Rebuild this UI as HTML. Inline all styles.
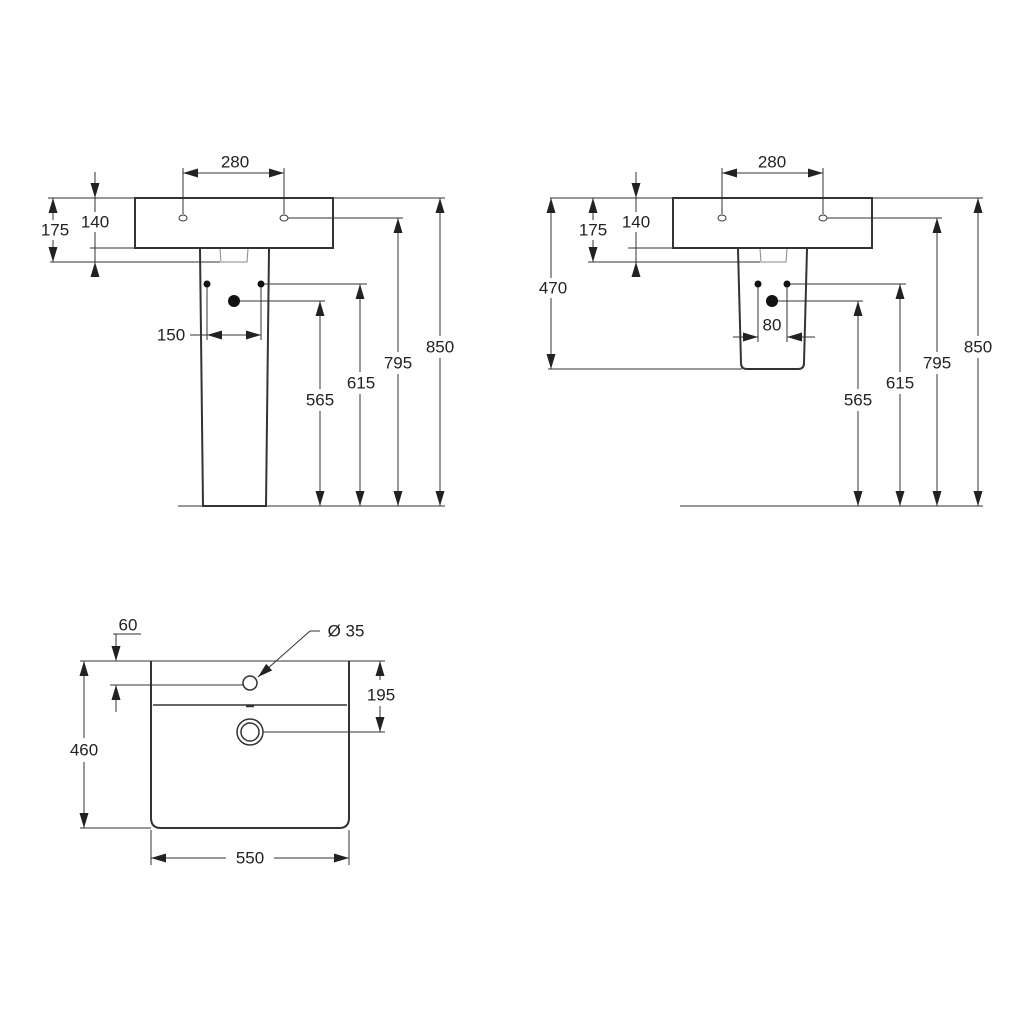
<!DOCTYPE html>
<html><head><style>body{margin:0;background:#fff}svg{display:block}text{font-family:"Liberation Sans",Arial,sans-serif;font-size:17px;fill:#222;text-anchor:middle;dominant-baseline:central}</style></head><body>
<svg width="1024" height="1024" viewBox="0 0 1024 1024" xmlns="http://www.w3.org/2000/svg">
<defs>
<marker id="a" markerWidth="15" markerHeight="9" refX="15" refY="4.5" orient="auto-start-reverse" markerUnits="userSpaceOnUse"><path d="M0,0L15,4.5L0,9z" fill="#222"/></marker>
</defs>
<g stroke="#333" stroke-width="1" fill="none">
<line x1="48" y1="198" x2="445" y2="198"/>
<line x1="50" y1="262" x2="220" y2="262"/>
<line x1="90" y1="248" x2="135" y2="248"/>
<line x1="178" y1="506" x2="445" y2="506"/>
<rect x="135" y="198" width="198" height="50" stroke-width="2"/>
<path d="M200,249L203,506L266,506L269,249" stroke-width="2"/>
<path d="M220,249L221,262L247,262L248,249" stroke="#888"/>
<ellipse cx="183" cy="218" rx="4" ry="3"/><ellipse cx="284" cy="218" rx="4" ry="3"/>
<line x1="183" y1="168" x2="183" y2="214"/><line x1="284" y1="168" x2="284" y2="214"/>
<line x1="183" y1="173" x2="284" y2="173" marker-start="url(#a)" marker-end="url(#a)"/>
<line x1="95" y1="172" x2="95" y2="198" marker-end="url(#a)"/>
<line x1="95" y1="274" x2="95" y2="262" marker-end="url(#a)"/>
<line x1="95" y1="198" x2="95" y2="212"/><line x1="95" y1="232" x2="95" y2="262"/>
<line x1="53" y1="198" x2="53" y2="220" marker-start="url(#a)"/>
<line x1="53" y1="240" x2="53" y2="262" marker-end="url(#a)"/>
<line x1="288" y1="218" x2="403" y2="218"/>
<line x1="398" y1="218" x2="398" y2="352" marker-start="url(#a)"/>
<line x1="398" y1="374" x2="398" y2="506" marker-end="url(#a)"/>
<line x1="440" y1="198" x2="440" y2="336" marker-start="url(#a)"/>
<line x1="440" y1="358" x2="440" y2="506" marker-end="url(#a)"/>
<line x1="261" y1="284" x2="367" y2="284"/>
<line x1="360" y1="284" x2="360" y2="372" marker-start="url(#a)"/>
<line x1="360" y1="394" x2="360" y2="506" marker-end="url(#a)"/>
<line x1="234" y1="301" x2="325" y2="301"/>
<line x1="320" y1="301" x2="320" y2="389" marker-start="url(#a)"/>
<line x1="320" y1="411" x2="320" y2="506" marker-end="url(#a)"/>
<line x1="207" y1="284" x2="207" y2="340"/><line x1="261" y1="284" x2="261" y2="340"/>
<line x1="190" y1="335" x2="207" y2="335"/>
<line x1="207" y1="335" x2="261" y2="335" marker-start="url(#a)" marker-end="url(#a)"/>
<line x1="550" y1="198" x2="983" y2="198"/>
<line x1="588" y1="262" x2="760" y2="262"/>
<line x1="628" y1="248" x2="673" y2="248"/>
<line x1="548" y1="369" x2="742" y2="369"/>
<line x1="680" y1="506" x2="983" y2="506"/>
<rect x="673" y="198" width="199" height="50" stroke-width="2"/>
<path d="M738,249L741,363Q741,369 747,369L798,369Q804,369 804,363L807,249" stroke-width="2"/>
<path d="M760,249L761,262L786,262L787,249" stroke="#888"/>
<ellipse cx="722" cy="218" rx="4" ry="3"/><ellipse cx="823" cy="218" rx="4" ry="3"/>
<line x1="722" y1="168" x2="722" y2="214"/><line x1="823" y1="168" x2="823" y2="214"/>
<line x1="722" y1="173" x2="823" y2="173" marker-start="url(#a)" marker-end="url(#a)"/>
<line x1="636" y1="172" x2="636" y2="198" marker-end="url(#a)"/>
<line x1="636" y1="274" x2="636" y2="262" marker-end="url(#a)"/>
<line x1="636" y1="198" x2="636" y2="212"/><line x1="636" y1="232" x2="636" y2="262"/>
<line x1="593" y1="198" x2="593" y2="220" marker-start="url(#a)"/>
<line x1="593" y1="240" x2="593" y2="262" marker-end="url(#a)"/>
<line x1="551" y1="198" x2="551" y2="278" marker-start="url(#a)"/>
<line x1="551" y1="298" x2="551" y2="369" marker-end="url(#a)"/>
<line x1="827" y1="218" x2="942" y2="218"/>
<line x1="937" y1="218" x2="937" y2="352" marker-start="url(#a)"/>
<line x1="937" y1="374" x2="937" y2="506" marker-end="url(#a)"/>
<line x1="978" y1="198" x2="978" y2="336" marker-start="url(#a)"/>
<line x1="978" y1="358" x2="978" y2="506" marker-end="url(#a)"/>
<line x1="787" y1="284" x2="906" y2="284"/>
<line x1="900" y1="284" x2="900" y2="372" marker-start="url(#a)"/>
<line x1="900" y1="394" x2="900" y2="506" marker-end="url(#a)"/>
<line x1="772" y1="301" x2="863" y2="301"/>
<line x1="858" y1="301" x2="858" y2="389" marker-start="url(#a)"/>
<line x1="858" y1="411" x2="858" y2="506" marker-end="url(#a)"/>
<line x1="758" y1="284" x2="758" y2="342"/><line x1="787" y1="284" x2="787" y2="342"/>
<line x1="733" y1="337" x2="758" y2="337" marker-end="url(#a)"/>
<line x1="815" y1="337" x2="787" y2="337" marker-end="url(#a)"/>
<line x1="80" y1="661" x2="385" y2="661"/>
<line x1="80" y1="828" x2="151" y2="828"/>
<path d="M151,661L151,818Q151,828 161,828L339,828Q349,828 349,818L349,661" stroke-width="2"/>
<line x1="153" y1="705" x2="347" y2="705" stroke-width="1.5"/>
<line x1="246" y1="706" x2="254" y2="706" stroke-width="2.5"/>
<circle cx="250" cy="683" r="7" stroke-width="1.5"/>
<circle cx="250" cy="732" r="13" stroke-width="1.5"/><circle cx="250" cy="732" r="9" stroke-width="1.5"/>
<line x1="84" y1="661" x2="84" y2="738" marker-start="url(#a)"/>
<line x1="84" y1="762" x2="84" y2="828" marker-end="url(#a)"/>
<line x1="116" y1="634" x2="116" y2="661" marker-end="url(#a)"/>
<line x1="116" y1="712" x2="116" y2="685" marker-end="url(#a)"/>
<line x1="113" y1="634" x2="141" y2="634"/>
<line x1="110" y1="685" x2="243" y2="685"/>
<line x1="380" y1="661" x2="380" y2="680" marker-start="url(#a)"/>
<line x1="380" y1="706" x2="380" y2="732" marker-end="url(#a)"/>
<line x1="263" y1="732" x2="385" y2="732"/>
<polyline points="320,631 310,631 258,677" marker-end="url(#a)"/>
<line x1="151" y1="830" x2="151" y2="865"/><line x1="349" y1="830" x2="349" y2="865"/>
<line x1="151" y1="858" x2="226" y2="858" marker-start="url(#a)"/>
<line x1="274" y1="858" x2="349" y2="858" marker-end="url(#a)"/>
</g>
<g fill="#111">
<circle cx="207" cy="284" r="3.5"/><circle cx="261" cy="284" r="3.5"/><circle cx="234" cy="301" r="6"/>
<circle cx="758" cy="284" r="3.5"/><circle cx="787" cy="284" r="3.5"/><circle cx="772" cy="301" r="6"/>
</g>
<text x="235" y="162">280</text><text x="95" y="222">140</text><text x="55" y="230">175</text>
<text x="171" y="335">150</text><text x="320" y="400">565</text><text x="361" y="383">615</text>
<text x="398" y="363">795</text><text x="440" y="347">850</text>
<text x="772" y="162">280</text><text x="636" y="222">140</text><text x="593" y="230">175</text>
<text x="553" y="288">470</text><text x="772" y="325">80</text>
<text x="858" y="400">565</text><text x="900" y="383">615</text><text x="937" y="363">795</text><text x="978" y="347">850</text>
<text x="128" y="625">60</text><text x="346" y="631">Ø 35</text><text x="381" y="695">195</text>
<text x="84" y="750">460</text><text x="250" y="858">550</text>
</svg>
</body></html>
